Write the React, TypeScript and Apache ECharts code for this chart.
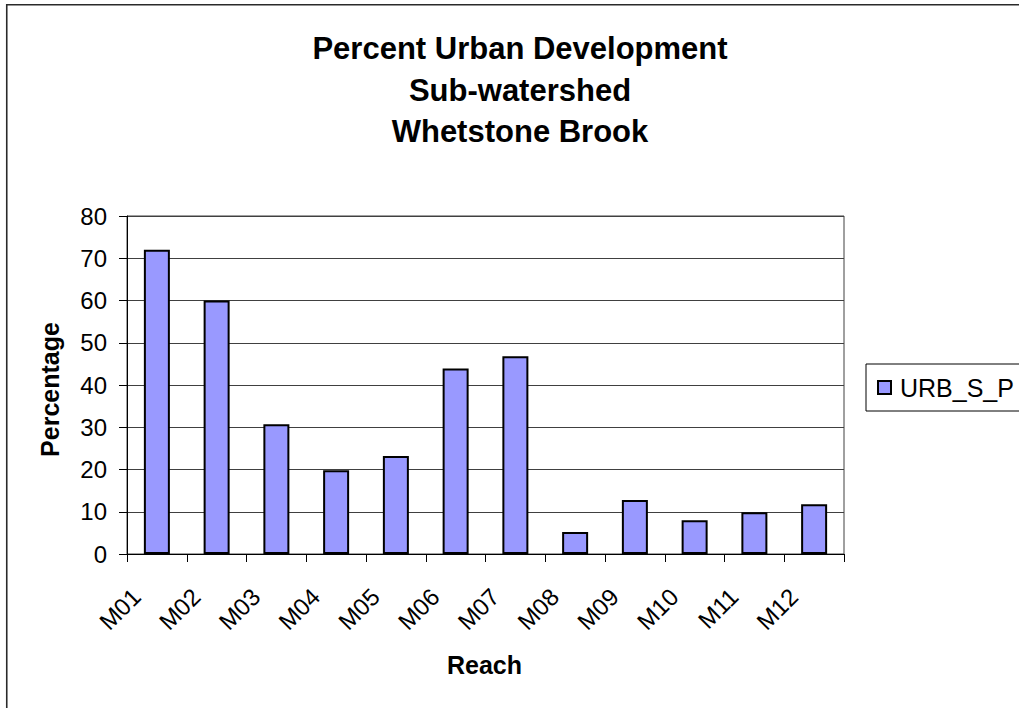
import React, { useEffect, useRef } from "react";
import * as echarts from "echarts";

// Reaches of Whetstone Brook and their share of urban land cover (%)
const reaches = ["M01", "M02", "M03", "M04", "M05", "M06", "M07", "M08", "M09", "M10", "M11", "M12"];
const urbanPercent = [72, 60, 30.7, 19.8, 23.2, 43.9, 46.8, 5.2, 12.8, 8.0, 9.9, 11.8];
const seriesName = "URB_S_P";
const titleLines = ["Percent Urban Development", "Sub-watershed", "Whetstone Brook"];
const yTitle = "Percentage";
const xTitle = "Reach";

const FONT = "'Liberation Sans', Arial, Helvetica, sans-serif";

export default function App() {
  const ref = useRef<HTMLDivElement>(null);

  useEffect(() => {
    if (!ref.current) return;
    const chart = echarts.init(ref.current, undefined, { renderer: "svg" });

    const plotLeft = 127;
    const plotTop = 216;
    const plotW = 717;
    const plotH = 338;

    chart.setOption({
      animation: false,
      backgroundColor: "#ffffff",
      textStyle: { fontFamily: FONT },
      grid: {
        left: plotLeft,
        top: plotTop,
        width: plotW,
        height: plotH,
        show: true,
        borderColor: "#404040",
        borderWidth: 1,
        backgroundColor: "transparent",
      },
      legend: {
        data: [seriesName],
        orient: "vertical",
        left: 866,
        top: 364,
        padding: [11, 200, 11, 11],
        borderColor: "#000000",
        borderWidth: 1,
        itemWidth: 13,
        itemHeight: 13,
        icon: "rect",
        selectedMode: false,
        textStyle: {
          fontFamily: FONT,
          fontSize: 25,
          color: "#000000",
          padding: [0, 0, 0, 4],
        },
      },
      xAxis: {
        type: "category",
        data: reaches,
        boundaryGap: true,
        axisLine: { show: true, lineStyle: { color: "#000000", width: 1 } },
        axisTick: { show: true, length: 8, alignWithLabel: false, lineStyle: { color: "#000000" } },
        axisLabel: {
          interval: 0,
          rotate: 45,
          margin: 18,
          fontSize: 24,
          fontFamily: FONT,
          color: "#000000",
          align: "right",
          verticalAlign: "middle",
          padding: [0, 29, 0, 0],
        },
        splitLine: { show: false },
      },
      yAxis: {
        type: "value",
        min: 0,
        max: 80,
        interval: 10,
        axisLine: { show: true, lineStyle: { color: "#000000", width: 1 } },
        axisTick: { show: true, length: 8, lineStyle: { color: "#000000" } },
        axisLabel: {
          margin: 20,
          fontSize: 24,
          fontFamily: FONT,
          color: "#000000",
        },
        splitLine: { show: true, lineStyle: { color: "#404040", width: 1 } },
      },
      series: [
        {
          name: seriesName,
          type: "bar",
          data: urbanPercent,
          barWidth: 26,
          itemStyle: {
            color: "#9999FF",
            borderColor: "#000000",
            borderWidth: 2,
          },
        },
      ],
      graphic: [
        // outer chart frame
        {
          type: "rect",
          shape: { x: 6.75, y: 4.75, width: 1100, height: 800 },
          style: { fill: "transparent", stroke: "#2a2a2a", lineWidth: 1.6 },
          silent: true,
          z: 100,
        },
        ...titleLines.map((line, i) => ({
          type: "text",
          x: 520,
          y: 48.5 + i * 41.6,
          style: {
            text: line,
            fontFamily: FONT,
            fontSize: 31,
            fontWeight: "bold",
            fill: "#000000",
            align: "center",
            verticalAlign: "middle",
          },
        })),
        {
          type: "text",
          x: 50,
          y: 389.5,
          rotation: Math.PI / 2,
          style: {
            text: yTitle,
            fontFamily: FONT,
            fontSize: 25,
            fontWeight: "bold",
            fill: "#000000",
            align: "center",
            verticalAlign: "middle",
          },
        },
        {
          type: "text",
          x: 484.5,
          y: 664.5,
          style: {
            text: xTitle,
            fontFamily: FONT,
            fontSize: 25,
            fontWeight: "bold",
            fill: "#000000",
            align: "center",
            verticalAlign: "middle",
          },
        },
      ],
    });

    return () => {
      chart.dispose();
    };
  }, []);

  return (
    <div
      ref={ref}
      style={{ position: "fixed", left: 0, top: 0, width: 1019, height: 708, background: "#ffffff" }}
    />
  );
}
